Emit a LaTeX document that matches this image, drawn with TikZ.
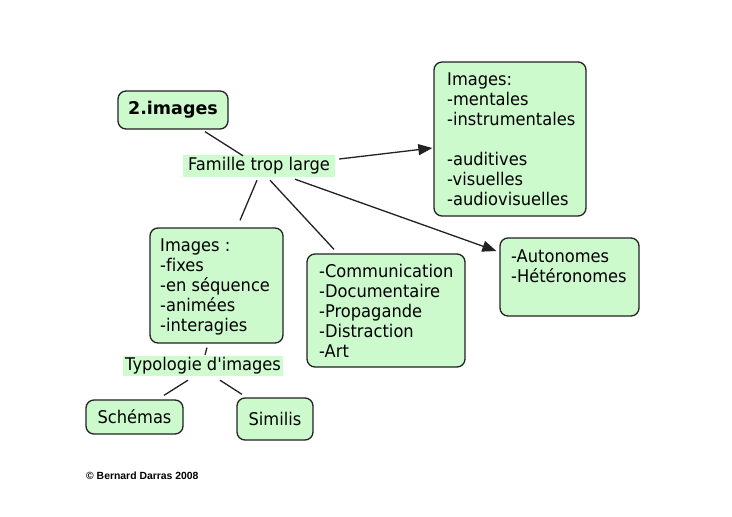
\documentclass[tikz,border=0pt]{standalone}
\usepackage{fontspec}
\newfontfamily\bodyfont{DejaVu Sans}[FakeStretch=0.93, Ligatures=NoCommon]
\newfontfamily\titlefont{DejaVu Sans}[Ligatures=NoCommon]
\newfontfamily\crfont{Liberation Sans}
\usetikzlibrary{arrows.meta}
\definecolor{boxgreen}{RGB}{204,250,204}
\definecolor{labgreen}{RGB}{206,252,206}
\definecolor{edgegray}{RGB}{34,34,34}
\tikzset{
  box/.style={draw=edgegray, line width=1.3pt, rounded corners=8pt, fill=boxgreen, inner sep=0pt},
  bodytext/.style={font=\bodyfont\fontsize{17.5}{20}\selectfont},
  txt/.style={bodytext, align=left, inner sep=0pt, anchor=north west},
  lab/.style={fill=labgreen, bodytext, inner sep=0pt},
  conn/.style={line width=1.3pt, edgegray},
  arr/.style={conn, -{Triangle[length=14pt,width=11pt]}}
}
\begin{document}
\begin{tikzpicture}[x=1pt,y=-1pt]
\useasboundingbox[fill=white] (0,0) rectangle (732,517);

% boxes
\node[box, minimum width=110pt, minimum height=38pt,
      font=\titlefont\bfseries\fontsize{17.5}{20}\selectfont] (img) at (173,110) {2.images};
\node[box, minimum width=152pt, minimum height=154pt] (imgs) at (510,139) {};
\node[txt] (imgst) at (447,73) {Images:\\-mentales\\-instrumentales\\[20pt]-auditives\\-visuelles\\-audiovisuelles};
\node[box, minimum width=133pt, minimum height=115pt] (fixes) at (216.5,285.5) {};
\node[txt] (fixest) at (160,239) {Images :\\-fixes\\-en séquence\\-animées\\-interagies};
\node[box, minimum width=158pt, minimum height=113pt] (comm) at (386,310.5) {};
\node[txt] (commt) at (319,263.5) {-Communication\\-Documentaire\\-Propagande\\-Distraction\\-Art};
\node[box, minimum width=139pt, minimum height=78pt] (auto) at (569.5,277) {};
\node[txt] (autot) at (511,250) {-Autonomes\\-Hétéronomes};
\node[box, minimum width=97pt, minimum height=34pt, bodytext] (sch) at (134.5,417) {Schémas};
\node[box, minimum width=76pt, minimum height=42pt, bodytext] (sim) at (275,419) {Similis};

% labels
\node[lab, minimum width=152pt, minimum height=22pt] (fam) at (259,166) {Famille trop large};
\node[lab, minimum width=160pt, minimum height=20pt] (typ) at (203,366) {Typologie d'images};

% connectors
\draw[conn] ([xshift=32pt,yshift=-2pt]img.south) -- ([xshift=-16pt,yshift=-1pt]fam.north);
\draw[arr] ([xshift=4pt,yshift=7pt]fam.east) -- ([xshift=-1pt,yshift=-9pt]imgs.west);
\draw[conn] ([xshift=-2pt,yshift=-3pt]fam.south) -- ([xshift=23.5pt,yshift=7pt]fixes.north);
\draw[conn] ([xshift=11pt,yshift=-3pt]fam.south) -- ([xshift=-52pt,yshift=4pt]comm.north);
\draw[arr] ([xshift=36pt,yshift=-2pt]fam.south) -- ([xshift=-3pt,yshift=26pt]auto.west);
\draw[conn] ([xshift=-9.5pt,yshift=-4pt]fixes.south) -- ([xshift=2pt,yshift=1pt]typ.north);
\draw[conn] ([xshift=-15pt,yshift=-4pt]typ.south) -- ([xshift=29.5pt,yshift=4pt]sch.north);
\draw[conn] ([xshift=17pt,yshift=-4pt]typ.south) -- ([xshift=-33pt,yshift=3pt]sim.north);

% copyright
\node[anchor=base west, inner sep=0pt, font=\crfont\bfseries\fontsize{10.4}{12}\selectfont] (copy) at (86,479) {© Bernard Darras 2008};
\end{tikzpicture}
\end{document}
